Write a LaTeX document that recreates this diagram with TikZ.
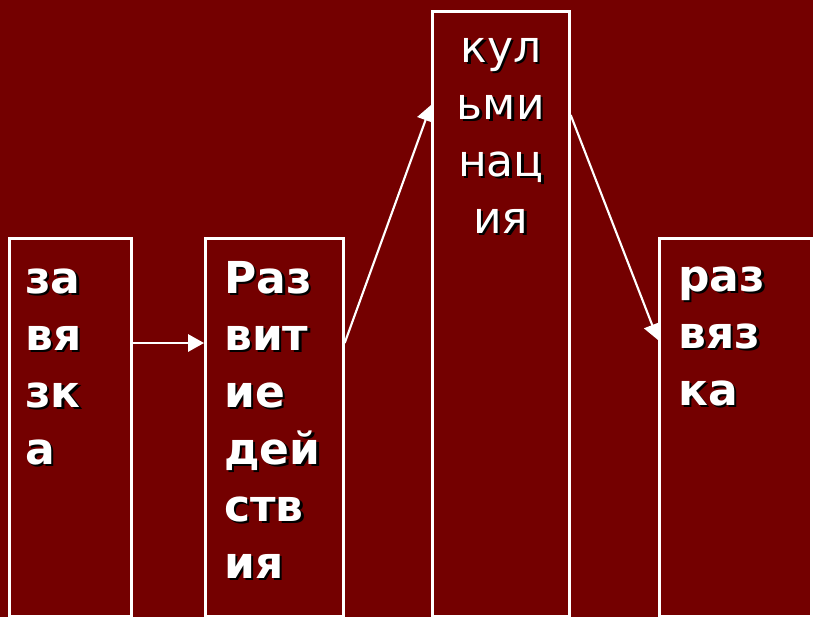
\documentclass[tikz,border=0pt]{standalone}
\usepackage{fontspec}
\setmainfont{DejaVu Sans}
\usetikzlibrary{positioning,arrows.meta}
\definecolor{bgred}{RGB}{116,0,0}
\newcommand\sh[1]{\makebox[0pt][l]{\kern2pt\raisebox{-2pt}{\color{black}#1}}#1}

\begin{document}
\begin{tikzpicture}
[x=0.75pt, y=-0.75pt,
stage/.style = {draw=white, line width=2pt, anchor=north west, inner sep=0pt},
word/.style = {text=white, inner sep=0pt, align=left,
	font=\fontsize{33}{42.75}\selectfont\bfseries},
link/.style = {draw=white, line width=1.6pt, -{Triangle[length=12pt,width=13pt]}},
]
\fill[bgred] (0,0) rectangle (813,617);

% the four stages
\node[stage, minimum width=91.5pt, minimum height=283.5pt] (zav) at (8,237) {};
\node[stage, minimum width=103.5pt, minimum height=283.5pt] (raz) at (204,237) {};
\node[stage, minimum width=102.75pt, minimum height=453.75pt] (kul) at (431,10) {};
\node[stage, minimum width=114pt, minimum height=283.5pt] (rzv) at (658,237) {};

\node[word, below right=12pt and 12.75pt of zav.north west] (zavtext)
	{\strut\sh{за}\\\sh{вя}\\\sh{зк}\\\sh{а}};
\node[word, below right=12pt and 15pt of raz.north west] (raztext)
	{\strut\sh{Раз}\\\sh{вит}\\\sh{ие}\\\sh{дей}\\\sh{ств}\\\sh{ия}};
\node[word, align=center, font=\fontsize{33}{42.75}\selectfont,
	below=9pt of kul.north] (kultext)
	{\strut\sh{кул}\\\sh{ьми}\\\sh{нац}\\\sh{ия}};
\node[word, below right=10.5pt and 15pt of rzv.north west] (rzvtext)
	{\strut\sh{раз}\\\sh{вяз}\\\sh{ка}};

% arrows
\draw[link] ([yshift=-79.5pt]zav.north east) -- ([yshift=-79.5pt]raz.north west);
\draw[link] ([yshift=-79.5pt]raz.north east) -- ([yshift=-71.25pt]kul.north west);
\draw[link] ([yshift=-78.75pt]kul.north east) -- ([yshift=-77.25pt]rzv.north west);

\end{tikzpicture}
\end{document}
